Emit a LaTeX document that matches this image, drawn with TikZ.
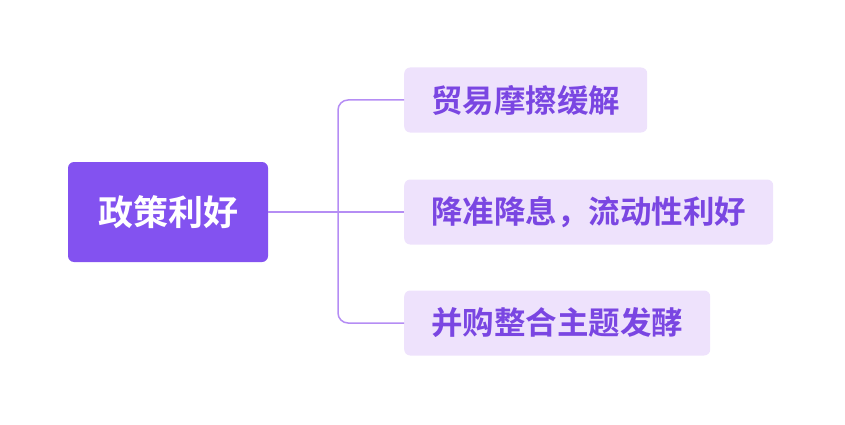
\documentclass[tikz,border=0pt]{standalone}
\usepackage{fontspec}
\newfontfamily\cjk{Noto Sans CJK SC Bold}
\begin{document}
\begin{tikzpicture}[x=1pt,y=-1pt,
  rootbox/.style={fill=rootc,rounded corners=6pt,minimum width=200pt,minimum height=100pt,text=white,font=\cjk\fontsize{35}{38}\selectfont},
  leaf/.style={fill=leafc,rounded corners=6pt,minimum height=65pt,anchor=west,text=leaft,font=\cjk\fontsize{31.5}{34}\selectfont,inner xsep=27pt},
  link/.style={draw=linec,line width=1.5pt,rounded corners=10pt}]
\definecolor{rootc}{HTML}{8352F0}
\definecolor{leafc}{HTML}{EEE2FC}
\definecolor{leaft}{HTML}{7A46E2}
\definecolor{linec}{HTML}{B58DF4}
\useasboundingbox (0,0) rectangle (845,425);
\node[rootbox] (r) at (168,212) {政策利好};
\node[leaf] (a) at (404,100) {贸易摩擦缓解};
\node[leaf] (b) at (404,212) {降准降息，流动性利好};
\node[leaf] (c) at (404,323) {并购整合主题发酵};
\coordinate (j) at (338,212);
\draw[link] (r.east) -- (b.west);
\draw[link] (j) |- (a.west);
\draw[link] (j) |- (c.west);
\end{tikzpicture}
\end{document}
